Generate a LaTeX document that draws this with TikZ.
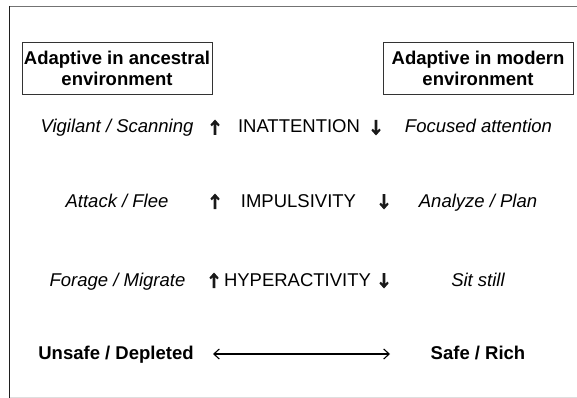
\documentclass[tikz,border=0pt]{standalone}
\usepackage{fontspec}
\setmainfont{Liberation Sans}
\usetikzlibrary{arrows.meta}
\begin{document}
\begin{tikzpicture}[x=1pt,y=-1pt,
  txt/.style={anchor=base,inner sep=0pt,font=\fontsize{18.5}{21}\selectfont},
  itxt/.style={txt,font=\fontsize{18.5}{21}\selectfont\itshape},
  btxt/.style={txt,font=\fontsize{18.5}{21}\selectfont\bfseries},
  hbox/.style={draw=black!80,line width=0.9pt,align=center,inner sep=0pt,
    minimum width=190pt,minimum height=52pt,
    font=\fontsize{18.5}{21}\selectfont\bfseries},
  boldarrow/.pic={\fill[black!90] (0,0) -- (4.7,5.3) -- (3.2,6.8) -- (1.35,4.7) -- (1.35,15.5)
      -- (-1.35,15.5) -- (-1.35,4.7) -- (-3.2,6.8) -- (-4.7,5.3) -- cycle;},
  dblarr/.style={line width=1.1pt,{Straight Barb[length=5.5pt,width=10pt]}-{Straight Barb[length=5.5pt,width=10pt]}}
]
\useasboundingbox (0,0) rectangle (577,398);
% frame
\draw[black!55,line width=1.4pt] (577,6.5) -- (9.5,6.5);
\draw[black!88,line width=1.3pt] (9.5,6) -- (9.5,398);
\draw[black!13,line width=1pt] (10.2,397.3) -- (577,397.3);
% header boxes
\node[hbox] (anc) at (117,68) {Adaptive in ancestral\\environment};
\node[hbox] (mod) at (478,68) {Adaptive in modern\\environment};
% row 1
\node[itxt] (vig) at (117,133) {Vigilant / Scanning};
\node[txt] (inat) at (299,133) {INATTENTION};
\node[itxt] (foc) at (478.5,133) {Focused attention};
% row 2
\node[itxt] (att) at (117,207) {Attack / Flee};
\node[txt] (imp) at (298.5,207) {IMPULSIVITY};
\node[itxt] (ana) at (478,207) {Analyze / Plan};
% row 3
\node[itxt] (for) at (117.5,286) {Forage / Migrate};
\node[txt] (hyp) at (297.5,286) {HYPERACTIVITY};
\node[itxt] (sit) at (478,286) {Sit still};
% row 4
\node[btxt] (uns) at (116,359) {Unsafe / Depleted};
\node[btxt] (saf) at (478,359) {Safe / Rich};
% small bold arrows (tip positions)
\coordinate (u1t) at (215,119.5);
\coordinate (d1t) at (376,135.5);
\coordinate (u2t) at (215,193.5);
\coordinate (d2t) at (384,209.5);
\coordinate (u3t) at (214,272.5);
\coordinate (d3t) at (384,288.5);
\path (u1t) pic {boldarrow};
\path (u2t) pic {boldarrow};
\path (u3t) pic {boldarrow};
\path (d1t) pic[yscale=-1] {boldarrow};
\path (d2t) pic[yscale=-1] {boldarrow};
\path (d3t) pic[yscale=-1] {boldarrow};
% double arrow
\coordinate (dl) at (213,354);
\coordinate (dr) at (390,354);
\draw[dblarr] (dl) -- (dr);
\end{tikzpicture}
\end{document}
